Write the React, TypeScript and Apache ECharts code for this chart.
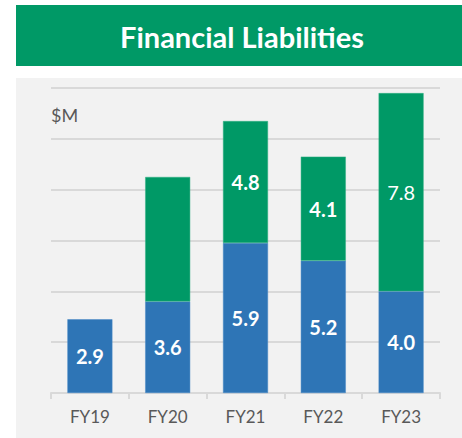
import React, { useEffect, useRef } from "react";
import * as echarts from "echarts";

const categories = ["FY19", "FY20", "FY21", "FY22", "FY23"];
const blueValues = [2.9, 3.6, 5.9, 5.2, 4.0];
const greenValues = [null, 4.9, 4.8, 4.1, 7.8];
const greenLabelShown = [false, false, true, true, true];
const greenLabelBold = [true, true, true, true, false];
const titleText = "Financial Liabilities";
const unitText = "$M";

const FONT = "Lato, 'Open Sans', sans-serif";

export default function App() {
  const ref = useRef<HTMLDivElement>(null);
  useEffect(() => {
    const chart = echarts.init(ref.current!, null, { renderer: "svg" });
    chart.setOption({
      animation: false,
      backgroundColor: "#ffffff",
      graphic: [
        { type: "rect", z: -10, shape: { x: 16, y: 5, width: 446, height: 61 }, style: { fill: "#009966" } },
        { type: "rect", z: -10, shape: { x: 16, y: 78, width: 446, height: 360 }, style: { fill: "#F2F2F2" } },
        {
          type: "text", x: 242, y: 36,
          style: { text: titleText, fill: "#ffffff", font: `bold 29px ${FONT}`, align: "center", verticalAlign: "middle" },
        },
        {
          type: "text", x: 51, y: 115, z: 10,
          style: { text: unitText, fill: "#595959", font: `18px ${FONT}`, align: "left", verticalAlign: "middle" },
        },
      ],
      grid: { left: 51, right: 22, top: 88, bottom: 45, containLabel: false },
      xAxis: {
        type: "category",
        data: categories,
        axisLine: { lineStyle: { color: "#d9d9d9", width: 2 } },
        axisTick: { show: true, length: 6, lineStyle: { color: "#d9d9d9", width: 2 } },
        axisLabel: { color: "#595959", fontSize: 17, fontFamily: FONT, margin: 15 },
      },
      yAxis: {
        type: "value",
        min: 0,
        max: 12,
        interval: 2,
        axisLabel: { show: false },
        axisLine: { show: false },
        axisTick: { show: false },
        splitLine: { lineStyle: { color: "#d9d9d9", width: 2 } },
      },
      series: [
        {
          type: "bar",
          stack: "total",
          barWidth: 45,
          data: blueValues,
          itemStyle: { color: "#2E75B6", borderColor: "#4a8bc6", borderWidth: 0.5 },
          label: {
            show: true,
            position: "inside",
            color: "#ffffff",
            fontSize: 20,
            fontWeight: "bold",
            fontFamily: FONT,
            formatter: (p: any) => Number(p.value).toFixed(1),
          },
        },
        {
          type: "bar",
          stack: "total",
          barWidth: 45,
          data: greenValues.map((v, i) => ({
            value: v,
            label: {
              show: greenLabelShown[i],
              fontWeight: greenLabelBold[i] ? "bold" : "normal",
            },
          })),
          itemStyle: { color: "#009966", borderColor: "#33b085", borderWidth: 0.5 },
          label: {
            show: true,
            position: "inside",
            color: "#ffffff",
            fontSize: 20,
            fontFamily: FONT,
            formatter: (p: any) => Number(p.value).toFixed(1),
          },
        },
      ],
    });
    return () => chart.dispose();
  }, []);
  return <div ref={ref} style={{ position: "fixed", left: 0, top: 0, width: 462, height: 438 }} />;
}
